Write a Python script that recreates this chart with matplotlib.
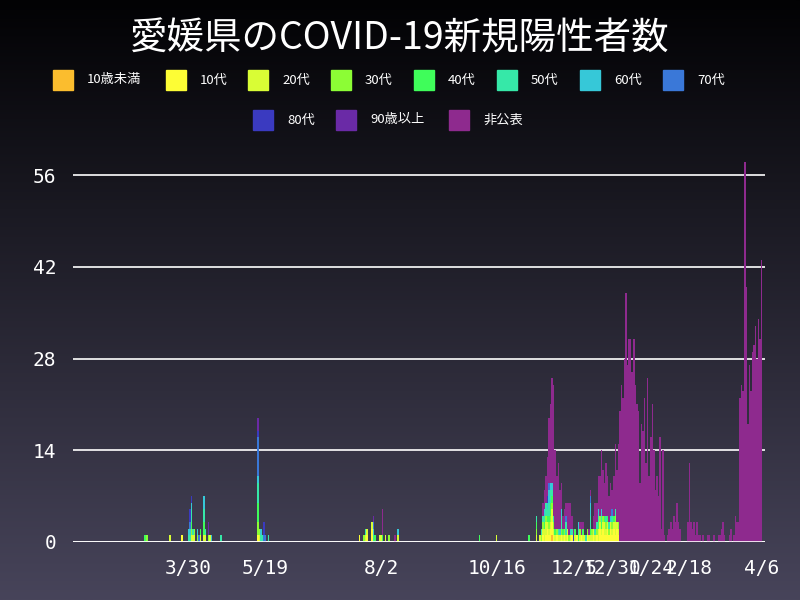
import matplotlib
matplotlib.use("Agg")
import matplotlib.pyplot as plt
from matplotlib.patches import Rectangle
import numpy as np
import pandas as pd

plt.rcParams['font.family'] = ['Noto Sans CJK JP', 'DejaVu Sans']

groups = ['10歳未満', '10代', '20代', '30代', '40代', '50代', '60代', '70代', '80代', '90歳以上', '非公表']
colors = ['#fbbd2e', '#fdfd35', '#d9fd35', '#8cfd35', '#3ffd5a', '#36e8a8',
          '#36c8d8', '#3a78d8', '#3a3ac0', '#6a2aa6', '#8e2a8e']

# early cases: (date, group index, count)
early_cases = [
    ('2020-03-02', 4, 1), ('2020-03-03', 3, 1), ('2020-03-18', 2, 1), ('2020-03-26', 1, 1),
    ('2020-03-30', 5, 1), ('2020-03-30', 6, 1),
    ('2020-03-31', 5, 1), ('2020-03-31', 6, 1), ('2020-03-31', 7, 1), ('2020-03-31', 8, 2),
    ('2020-04-01', 2, 1), ('2020-04-01', 3, 1), ('2020-04-01', 4, 1), ('2020-04-01', 5, 2),
    ('2020-04-01', 6, 1), ('2020-04-01', 8, 1),
    ('2020-04-02', 2, 1), ('2020-04-02', 5, 1), ('2020-04-03', 2, 1), ('2020-04-03', 3, 1),
    ('2020-04-05', 3, 1), ('2020-04-05', 6, 1), ('2020-04-06', 7, 1),
    ('2020-04-07', 2, 1), ('2020-04-07', 4, 1),
    ('2020-04-09', 2, 1), ('2020-04-09', 4, 2), ('2020-04-09', 5, 2), ('2020-04-09', 6, 2),
    ('2020-04-10', 2, 1), ('2020-04-10', 5, 1), ('2020-04-12', 3, 1), ('2020-04-12', 9, 2),
    ('2020-04-13', 2, 1), ('2020-04-14', 6, 1), ('2020-04-20', 5, 1),
    ('2020-05-14', 1, 1), ('2020-05-14', 3, 2), ('2020-05-14', 4, 3), ('2020-05-14', 5, 3),
    ('2020-05-14', 6, 1), ('2020-05-14', 7, 6), ('2020-05-14', 8, 1), ('2020-05-14', 9, 2),
    ('2020-05-15', 2, 1), ('2020-05-15', 3, 1), ('2020-05-16', 5, 1), ('2020-05-16', 6, 1),
    ('2020-05-17', 5, 1), ('2020-05-18', 7, 1), ('2020-05-18', 8, 2), ('2020-05-19', 7, 1),
    ('2020-05-21', 5, 1),
    ('2020-07-19', 1, 1), ('2020-07-22', 3, 1), ('2020-07-23', 2, 1), ('2020-07-23', 5, 1),
    ('2020-07-24', 1, 1), ('2020-07-24', 2, 1), ('2020-07-27', 1, 2), ('2020-07-27', 2, 1),
    ('2020-07-28', 5, 1), ('2020-07-28', 6, 1), ('2020-07-28', 7, 1), ('2020-07-28', 9, 1),
    ('2020-07-29', 4, 1), ('2020-08-01', 2, 1), ('2020-08-02', 2, 1),
    ('2020-08-03', 4, 1), ('2020-08-03', 10, 4), ('2020-08-05', 2, 1), ('2020-08-07', 3, 1),
    ('2020-08-11', 10, 1), ('2020-08-13', 2, 1), ('2020-08-13', 6, 1),
    ('2020-10-05', 4, 1), ('2020-10-16', 2, 1), ('2020-11-06', 4, 1),
    ('2020-11-11', 2, 1), ('2020-11-11', 3, 1), ('2020-11-11', 4, 1), ('2020-11-11', 5, 1),
    ('2020-11-13', 2, 1), ('2020-11-14', 3, 1), ('2020-11-14', 5, 1),
]

# daily counts by age from 2020-11-15 (50 days)
wave_start = '2020-11-15'
age_u10 = [0,0,0,0,0,0,1,0,0,0, 0,0,0,0,0,0,0,0,0,0, 0,0,0,0,0,0,0,0,0,0, 0,0,0,0,0,0,0,0,0,0, 0,0,0,0,0,0,0,0,0,0]
age_10 = [1,0,1,2,1,2,2,1,0,1, 0,0,1,0,1,0,1,0,0,1, 0,0,1,0,0,1,0,0,0,1, 0,0,0,1,0,1,0,2,1,2, 1,1,2,1,2,1,2,1,2,1]
age_20 = [1,2,2,1,1,1,2,1,1,0, 1,1,0,1,0,1,1,0,1,0, 0,1,0,0,1,0,1,1,0,0, 1,1,1,1,1,0,2,1,1,1, 2,1,1,0,1,1,1,2,1,1]
age_30 = [1,0,1,0,1,1,1,1,0,1, 0,0,1,0,1,0,0,1,0,0, 0,0,0,0,1,0,0,0,0,1, 0,0,1,0,0,1,0,1,0,1, 0,1,0,1,0,1,0,1,0,1]
age_40 = [0,1,0,1,1,2,1,0,1,0, 0,0,0,1,0,0,0,0,0,0, 0,1,0,1,0,0,1,0,0,0, 0,1,0,0,0,0,1,0,1,0, 1,0,1,0,0,0,1,0,0,0]
age_50 = [1,1,2,1,2,2,1,1,0,0, 1,0,2,0,0,2,0,0,0,1, 0,0,0,1,0,0,0,0,1,0, 0,2,0,0,1,1,1,0,1,0, 0,1,0,1,0,1,0,1,0,0]
age_60 = [0,1,0,1,2,1,1,0,0,0, 0,1,1,0,0,0,0,0,1,0, 0,0,0,1,0,0,0,0,0,0, 0,2,0,0,0,0,1,0,1,0, 0,0,0,0,1,0,0,0,0,0]
age_70 = [0,0,0,0,1,0,0,0,0,0, 0,0,0,0,0,1,0,0,0,0, 0,0,0,0,0,0,0,0,0,0, 0,1,0,0,0,0,0,0,0,0, 0,0,0,0,0,1,0,0,0,0]
age_80 = [0,0,0,1,0,0,0,0,0,0, 0,0,0,0,0,0,0,0,0,0, 1,0,0,0,0,0,0,0,0,0, 0,0,0,0,0,0,0,0,0,0, 0,0,0,0,0,0,0,0,0,0]

# 非公表 daily counts from 2020-11-15
nonpub = [2,3,4,6,10,12,16,20,12,8, 10,6,4,2,3,2,4,5,4,2,
          1,0,0,0,1,2,1,0,0,0, 1,1,0,2,4,3,5,6,9,7,
          5,8,6,4,5,3,6,10,8,12, 20,24,22,28,38,27,31,31,26,31,
          24,21,20,9,18,17,22,12,25,10, 16,21,14,8,10,7,16,2,14,1,
          0,1,2,3,2,4,3,6,3,2, 0,0,0,0,3,12,3,2,3,1,
          3,1,1,0,1,0,0,1,1,0, 0,1,0,0,1,1,2,3,1,0,
          0,1,2,0,1,4,3,3,22,24, 23,58,39,18,27,23,29,30,33,28,
          34,31,43]

days = pd.date_range('2020-01-15', '2021-04-08')
counts = pd.DataFrame(0, index=days, columns=range(len(groups)))
for d, g, c in early_cases:
    counts.loc[pd.Timestamp(d), g] += c
wave_days = pd.date_range(wave_start, periods=len(age_10))
for g, arr in enumerate([age_u10, age_10, age_20, age_30, age_40, age_50, age_60, age_70, age_80]):
    counts.loc[wave_days, g] += arr
counts.loc[pd.date_range(wave_start, periods=len(nonpub)), 10] += nonpub

fig = plt.figure(figsize=(8, 6), dpi=100)
bg = fig.add_axes([0, 0, 1, 1], zorder=-10)
grad = np.linspace(0, 1, 256).reshape(-1, 1)
bg.imshow(grad, aspect='auto', cmap=matplotlib.colors.LinearSegmentedColormap.from_list('bg', ['#020204', '#47445a']),
          extent=[0, 1, 0, 1])
bg.axis('off')

ax = fig.add_axes([0.091, 0.0967, 0.865, 0.655])
ax.set_facecolor('none')
bottom = np.zeros(len(days))
for g in range(len(groups)):
    vals = counts[g].values
    ax.bar(days, vals, width=1.0, bottom=bottom, color=colors[g], linewidth=0)
    bottom += vals

ax.set_ylim(0, 60)
ax.set_xlim(pd.Timestamp('2020-01-15'), pd.Timestamp('2021-04-08'))
ax.set_yticks([0, 14, 28, 42, 56])
ax.yaxis.grid(True, color='white', linewidth=1.2)
ax.set_axisbelow(True)
tick_dates = ['2020-03-30', '2020-05-19', '2020-08-02', '2020-10-16', '2020-12-05',
              '2020-12-30', '2021-01-24', '2021-02-18', '2021-04-06']
tick_labels = ['3/30', '5/19', '8/2', '10/16', '12/5', '12/30', '1/24', '2/18', '4/6']
ax.set_xticks(pd.to_datetime(tick_dates))
ax.set_xticklabels(tick_labels)
for s in ax.spines.values():
    s.set_visible(False)
ax.tick_params(length=0, colors='white', labelsize=14, pad=12)
for lab in ax.get_xticklabels() + ax.get_yticklabels():
    lab.set_family('DejaVu Sans Mono')
ax.axhline(0, color='white', linewidth=1.2)

fig.text(0.5, 0.935, '愛媛県のCOVID-19新規陽性者数', color='white', fontsize=27, ha='center', va='center')

row1 = [63, 176, 258, 341, 424, 507, 590, 673]
row2 = [263, 346, 459]
pos = [(x, 80) for x in row1] + [(x, 120) for x in row2]
for (x, y), name, col in zip(pos, groups, colors):
    fig.patches.append(Rectangle(((x - 10) / 800, 1 - (y + 10) / 600), 20 / 800, 20 / 600,
                                 color=col, transform=fig.transFigure))
    fig.text((x + 24) / 800, 1 - y / 600, name, color='white', fontsize=9.5, va='center')

fig.savefig('out.png', dpi=100)
